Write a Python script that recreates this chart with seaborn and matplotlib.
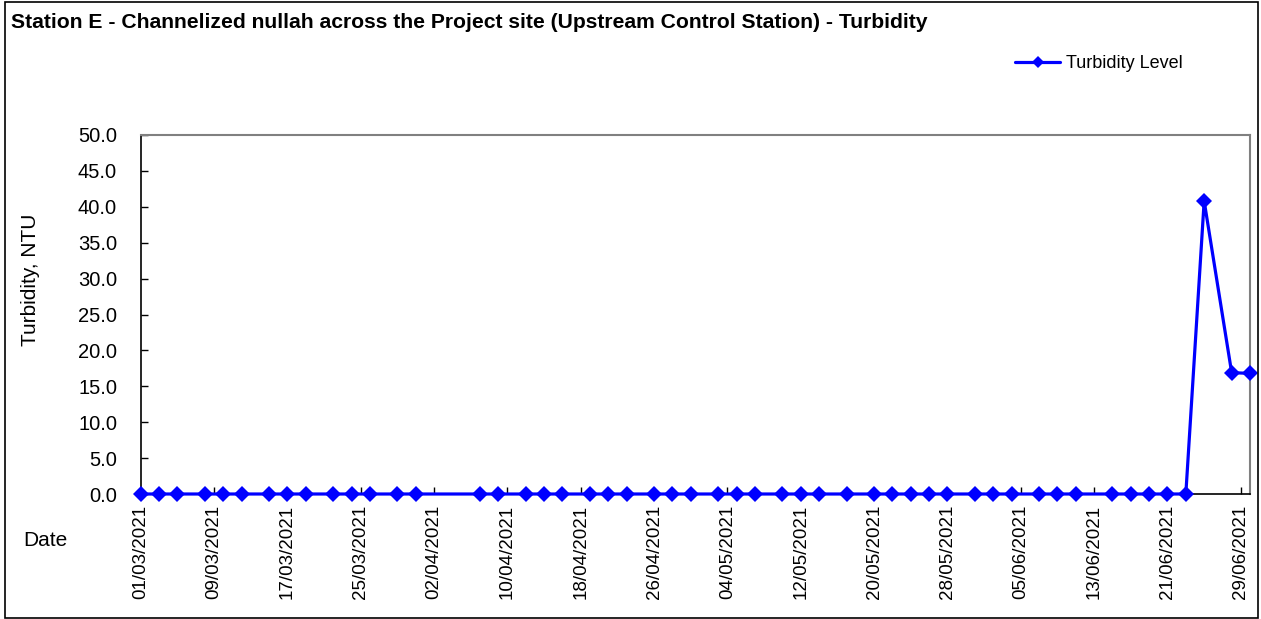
import pandas as pd
import numpy as np
import matplotlib
matplotlib.use("Agg")
import matplotlib.pyplot as plt
import seaborn as sns

# DATA
dates = ["01/03/2021", "03/03/2021", "05/03/2021", "08/03/2021", "10/03/2021", "12/03/2021",
         "15/03/2021", "17/03/2021", "19/03/2021", "22/03/2021", "24/03/2021", "26/03/2021",
         "29/03/2021", "31/03/2021", "07/04/2021", "09/04/2021", "12/04/2021", "14/04/2021",
         "16/04/2021", "19/04/2021", "21/04/2021", "23/04/2021", "26/04/2021", "28/04/2021",
         "30/04/2021", "03/05/2021", "05/05/2021", "07/05/2021", "10/05/2021", "12/05/2021",
         "14/05/2021", "17/05/2021", "20/05/2021", "22/05/2021", "24/05/2021", "26/05/2021",
         "28/05/2021", "31/05/2021", "02/06/2021", "04/06/2021", "07/06/2021", "09/06/2021",
         "11/06/2021", "15/06/2021", "17/06/2021", "19/06/2021", "21/06/2021", "23/06/2021",
         "25/06/2021", "28/06/2021", "30/06/2021"]
turbidity = [0.0] * 48 + [40.8, 16.9, 16.8]

series_name = "Turbidity Level"
title = "Station E - Channelized nullah across the Project site (Upstream Control Station) - Turbidity"

df = pd.DataFrame({"date": pd.to_datetime(dates, format="%d/%m/%Y"), "value": turbidity})
df["series"] = series_name

sns.set_style("white")
plt.rcParams["font.family"] = ["Liberation Sans", "DejaVu Sans"]
plt.rcParams["text.color"] = "black"
plt.rcParams["xtick.color"] = "black"
plt.rcParams["ytick.color"] = "black"

W, H = 1261, 619
fig = plt.figure(figsize=(W / 100, H / 100), dpi=100)
ax = fig.add_axes([140.7 / W, 1 - 494 / H, (1250 - 140.7) / W, (494 - 135) / H])

sns.lineplot(data=df, x="date", y="value", hue="series", palette=["#0000FF"], ax=ax,
             marker="D", markersize=8.5, markeredgewidth=0, linewidth=2.3, legend=False,
             clip_on=False, zorder=5)

# axes
ax.set_xlim(pd.Timestamp("2021-03-01"), pd.Timestamp("2021-06-30"))
ax.set_ylim(0, 50)
ax.set_yticks(np.arange(0, 50.1, 5))
ax.yaxis.set_major_formatter(matplotlib.ticker.FormatStrFormatter("%.1f"))
ticks = pd.date_range("2021-03-01", "2021-06-30", freq="8D")
ax.set_xticks(ticks)
ax.set_xticklabels([t.strftime("%d/%m/%Y") for t in ticks], rotation=90)
ax.set_xlabel("")
ax.set_ylabel("")
ax.tick_params(axis="y", direction="in", length=5, width=1, labelsize=14.5, pad=17, left=True)
ax.tick_params(axis="x", direction="in", length=5, width=1, labelsize=13.5, pad=8, bottom=True)

for s in ["left", "bottom"]:
    ax.spines[s].set_color("black")
    ax.spines[s].set_linewidth(1.2)
for s in ["top", "right"]:
    ax.spines[s].set_color("#808080")
    ax.spines[s].set_linewidth(1.5)

# texts
fig.text(11 / W, 1 - 22 / H, title, fontsize=15.2, fontweight="bold", va="center", ha="left")
fig.text(31 / W, 1 - 280 / H, "Turbidity, NTU", fontsize=15, rotation=90, va="center", ha="center")
fig.text(23 / W, 1 - 540 / H, "Date", fontsize=15, va="center", ha="left")

handle = plt.Line2D([], [], color="#0000FF", marker="D", markersize=6, markeredgewidth=0, linewidth=2.3)
fig.legend([handle], [series_name], loc="center left", bbox_to_anchor=(1015 / W, 1 - 64 / H),
           frameon=False, fontsize=13, handlelength=2.5, handletextpad=0.35, borderpad=0, borderaxespad=0)

# figure border
fig.patches.append(plt.Rectangle((5 / W, 1 / H), (W - 8) / W, (H - 3) / H, transform=fig.transFigure,
                                 fill=False, edgecolor="black", linewidth=1.2))

fig.savefig("out.png", dpi=100, facecolor="white")
